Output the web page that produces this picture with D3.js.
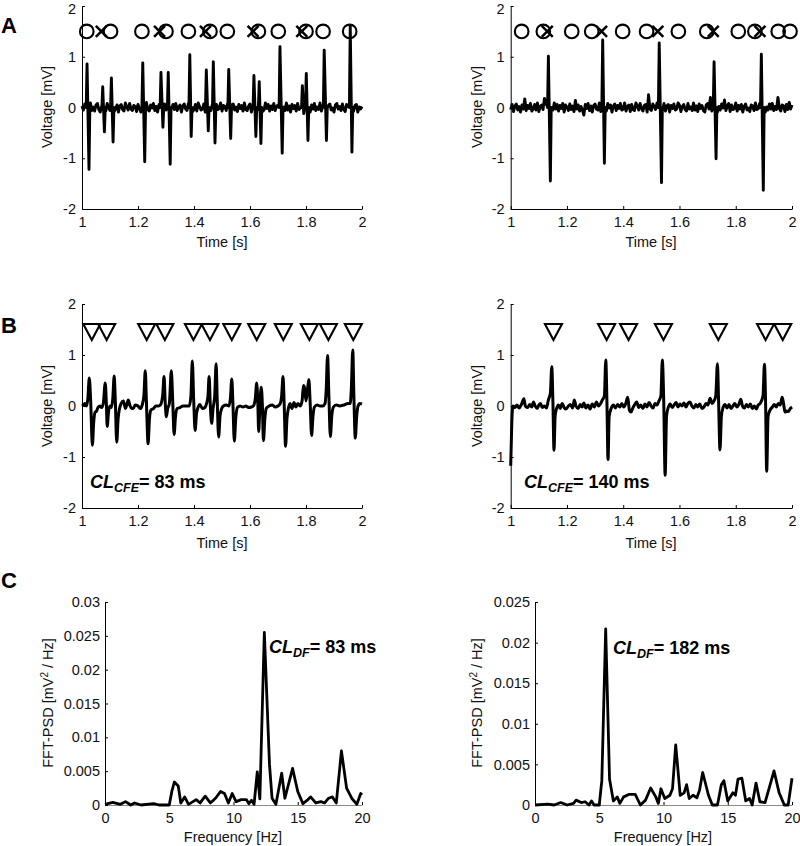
<!DOCTYPE html>
<html><head><meta charset="utf-8">
<script src="https://cdn.jsdelivr.net/npm/d3@7"></script>
<style>body{margin:0;background:#fff} svg{display:block}</style>
</head><body>
<svg id="c" width="800" height="846"></svg>
<script>
// ---------------- DATA ----------------
const timeTicks = [1, 1.2, 1.4, 1.6, 1.8, 2];
const voltTicks = [-2, -1, 0, 1, 2];
const freqTicks = [0, 5, 10, 15, 20];
const psdTicksLeft = [0, 0.005, 0.01, 0.015, 0.02, 0.025, 0.03];
const psdTicksRight = [0, 0.005, 0.01, 0.015, 0.02, 0.025];

// Panel A: baseline noise (hundredths of mV, one sample every 5 ms from t = 1 s)
const noiseA1 = [3,-5,7,-2,-8,4,9,-6,1,-7, 5,8,-4,-9,2,6,-3,-7,8,-1, -6,4,7,-8,-2,5,-9,3,6,-4,
 -7,9,1,-5,8,-3,-6,4,2,-8, 6,-2,-9,7,3,-5,10,-4,-7,5, -1,8,-6,2,-9,6,4,-3,-8,7,
 -5,3,9,-7,-2,6,-4,8,-6,1, 5,-9,3,7,-3,-6,8,-2,4,-8, -4,6,-7,9,2,-5,-3,7,-9,4,
 8,-1,-6,5,-8,3,6,-4,-2,9, -7,4,2,-6,8,-3,-9,5,7,-5, 1,-8,6,-2,4,-7,9,-4,-6,3,
 7,-9,2,5,-3,-6,8,-1,4,-8, -5,9,-2,6,-7,3,-4,8,-6,2, 5,-3,-8,7,1,-6,9,-5,3,-9,
 6,-2,4,-7,8,-4,-1,6,-8,3, -6,7,2,-9,5,-3,8,-6,1,-4, 9,-7,3,-2,6,-8,4,7,-5,-1,
 -9,5,8,-3,2,-6,7,-4,-8,6, 3,-5,9,-2,-7,4,6,-9,1,-3, 2];
const noiseA2 = [-4,6,-8,3,7,-5,2,-9,5,-3, 17,-6,4,-2,8,-7,-3,6,-5,9, -8,2,5,-4,18,7,3,-6,8,-1,
 -5,9,-3,6,-7,4,-2,8,-9,5, 1,-6,7,-4,3,-8,14,-3,5,-7, 2,-5,-15,6,-2,8,-6,3,-9,4,
 7,-3,-5,9,-8,2,6,-4,-7,8, -1,5,-9,3,7,-6,4,-2,8,-5, -3,9,-7,2,5,-8,6,-4,-6,9,
 3,-5,8,-2,-7,4,6,-9,25,-3, -6,7,2,-4,9,-8,5,-1,-5,8, -7,3,6,-9,4,-2,7,-5,-3,9,
 5,-8,2,6,-4,-7,8,-3,1,-6, 9,-5,3,-8,7,-2,4,-6,-9,5, 8,-3,20,-7,4,-4,6,-9,2,-5,
 7,-1,15,-6,3,8,-8,5,-4,-2, 9,-7,4,-3,6,-9,2,7,-5,-1, -8,5,3,-6,9,-4,-2,8,-7,4,
 6,-9,1,-5,7,-3,8,-6,2,-4, 20,-2,-7,5,3,-8,6,-4,10,-3, 5];
// spikes: [t up, v up, t down, v down]
const spikesA1 = [[1.018,0.86,1.025,-1.22],[1.074,0.41,1.080,-0.48],[1.105,0.58,1.111,-0.68],
 [1.217,0.88,1.224,-1.07],[1.282,0.69,1.289,-0.39],[1.308,0.69,1.315,-1.12],[1.385,1.04,1.390,-0.57],
 [1.444,0.74,1.451,-0.46],[1.469,0.90,1.475,-0.70],[1.524,0.75,1.531,-0.61],[1.614,0.63,1.621,-0.57],
 [1.633,0.51,1.639,-0.71],[1.707,1.20,1.715,-0.90],[1.787,0.43,1.792,-0.12],[1.801,0.67,1.807,-0.65],
 [1.865,1.13,1.873,-0.65],[1.958,1.61,1.964,-0.88]];
const spikesA2 = [[1.134,1.01,1.141,-1.45],[1.327,1.33,1.333,-1.10],[1.528,1.27,1.536,-1.48],
 [1.723,0.90,1.730,-1.01],[1.891,1.05,1.898,-1.63]];
const circlesA1 = [1.017,1.102,1.214,1.300,1.380,1.457,1.519,1.630,1.701,1.800,1.861,1.956];
const crossesA1 = [1.069,1.277,1.441,1.611,1.785];
const circlesA2 = [1.039,1.116,1.217,1.288,1.398,1.483,1.596,1.697,1.809,1.868,1.951,1.993];
const crossesA2 = [1.130,1.323,1.523,1.720,1.886];
const markerLevelA = 1.5;

// Panel B: filtered signals [t, v]
const signalB1 = [[1.000,0.00],[1.005,0.02],[1.011,0.05],[1.016,0.00],[1.021,0.15],[1.026,0.55],[1.031,0.10],[1.037,-0.77],[1.042,-0.30],[1.047,-0.12],[1.052,-0.10],[1.058,-0.02],[1.064,0.00],[1.070,-0.03],[1.076,0.05],[1.083,0.45],[1.087,0.05],[1.090,-0.40],[1.095,-0.10],[1.100,0.00],[1.105,-0.03],[1.110,0.15],[1.115,0.59],[1.119,0.10],[1.124,-0.71],[1.129,-0.25],[1.134,-0.05],[1.140,0.05],[1.148,0.10],[1.155,-0.05],[1.160,0.02],[1.165,0.12],[1.172,0.00],[1.178,-0.05],[1.183,-0.05],[1.190,0.02],[1.200,0.00],[1.208,-0.05],[1.215,0.02],[1.221,0.20],[1.226,0.69],[1.230,0.10],[1.236,-0.74],[1.241,-0.25],[1.246,-0.08],[1.255,-0.05],[1.264,0.00],[1.273,0.00],[1.280,0.02],[1.288,0.20],[1.293,0.58],[1.297,0.10],[1.301,-0.21],[1.306,-0.05],[1.312,0.05],[1.319,0.69],[1.324,0.10],[1.329,-0.56],[1.334,-0.20],[1.340,-0.05],[1.350,-0.03],[1.360,0.00],[1.374,0.00],[1.383,0.00],[1.389,0.20],[1.394,0.88],[1.399,0.10],[1.404,-0.48],[1.409,-0.15],[1.415,-0.02],[1.421,0.03],[1.430,-0.05],[1.439,-0.03],[1.445,0.05],[1.450,0.20],[1.454,0.58],[1.458,0.05],[1.463,-0.34],[1.468,-0.05],[1.474,0.20],[1.479,0.83],[1.483,0.10],[1.488,-0.61],[1.493,-0.20],[1.499,-0.05],[1.505,0.00],[1.515,0.02],[1.525,0.00],[1.530,0.15],[1.535,0.53],[1.539,0.05],[1.544,-0.69],[1.549,-0.25],[1.555,-0.03],[1.565,0.00],[1.575,-0.02],[1.585,0.00],[1.595,-0.03],[1.605,-0.02],[1.612,0.00],[1.619,0.15],[1.624,0.45],[1.628,0.05],[1.631,-0.50],[1.635,-0.05],[1.640,0.37],[1.644,0.05],[1.648,-0.68],[1.653,-0.25],[1.658,-0.05],[1.668,0.00],[1.680,0.02],[1.690,-0.02],[1.700,0.00],[1.708,0.05],[1.713,0.20],[1.718,0.58],[1.722,0.05],[1.727,-0.79],[1.732,-0.25],[1.737,-0.05],[1.743,0.05],[1.750,-0.05],[1.757,0.07],[1.764,-0.02],[1.771,0.05],[1.779,0.00],[1.786,0.10],[1.791,0.40],[1.795,0.35],[1.800,0.10],[1.805,0.30],[1.810,0.52],[1.815,0.05],[1.820,-0.58],[1.825,-0.20],[1.830,-0.02],[1.840,0.02],[1.850,0.00],[1.860,0.00],[1.868,0.05],[1.872,0.30],[1.877,0.99],[1.882,0.15],[1.887,-0.60],[1.892,-0.20],[1.898,-0.02],[1.908,0.02],[1.920,0.00],[1.935,0.02],[1.950,0.05],[1.958,0.05],[1.962,0.35],[1.967,1.10],[1.971,0.20],[1.976,-0.63],[1.981,-0.20],[1.986,0.00],[1.992,0.05],[2.000,0.04]];
const signalB2 = [[1.000,-1.17],[1.004,-0.30],[1.008,0.00],[1.015,-0.03],[1.022,0.02],[1.030,-0.04],[1.038,0.03],[1.047,0.14],[1.052,0.00],[1.060,-0.03],[1.068,0.03],[1.075,-0.02],[1.081,0.08],[1.087,0.00],[1.094,-0.05],[1.100,0.02],[1.106,0.05],[1.112,-0.03],[1.120,0.00],[1.127,-0.04],[1.134,0.12],[1.141,0.25],[1.146,0.77],[1.150,0.10],[1.154,-0.87],[1.158,-0.20],[1.163,-0.05],[1.170,0.02],[1.176,-0.05],[1.183,0.05],[1.190,-0.03],[1.197,-0.06],[1.205,0.00],[1.212,0.03],[1.220,-0.04],[1.226,0.12],[1.232,0.00],[1.240,-0.05],[1.247,0.03],[1.254,-0.02],[1.260,0.06],[1.267,-0.04],[1.275,0.02],[1.282,-0.06],[1.290,0.04],[1.297,-0.02],[1.305,0.08],[1.312,0.00],[1.320,0.05],[1.326,0.12],[1.333,0.20],[1.338,0.90],[1.342,0.10],[1.346,-1.05],[1.350,-0.20],[1.357,-0.05],[1.365,0.02],[1.372,-0.04],[1.380,0.03],[1.388,-0.02],[1.395,0.05],[1.402,-0.02],[1.409,0.05],[1.416,0.17],[1.422,-0.08],[1.428,-0.12],[1.434,-0.04],[1.441,0.03],[1.448,0.08],[1.455,-0.03],[1.462,0.02],[1.470,-0.05],[1.477,0.04],[1.484,-0.02],[1.492,0.07],[1.499,0.00],[1.506,-0.04],[1.513,0.05],[1.520,0.02],[1.527,0.10],[1.534,0.20],[1.539,0.90],[1.544,0.10],[1.549,-1.36],[1.554,-0.20],[1.560,-0.03],[1.567,0.04],[1.574,-0.03],[1.581,0.02],[1.588,0.07],[1.595,-0.02],[1.602,0.04],[1.609,0.00],[1.616,0.06],[1.623,-0.02],[1.630,0.05],[1.637,0.08],[1.644,0.00],[1.651,-0.04],[1.658,0.03],[1.665,-0.02],[1.672,0.04],[1.680,-0.05],[1.687,-0.02],[1.694,0.05],[1.701,0.02],[1.709,0.15],[1.716,0.05],[1.723,0.10],[1.729,0.20],[1.735,0.83],[1.739,0.10],[1.744,-0.86],[1.749,-0.20],[1.755,-0.03],[1.762,0.03],[1.769,-0.04],[1.776,0.03],[1.783,-0.05],[1.790,0.00],[1.797,0.05],[1.804,-0.02],[1.811,0.03],[1.818,0.13],[1.824,0.00],[1.831,-0.04],[1.838,0.03],[1.845,-0.02],[1.852,0.04],[1.859,-0.05],[1.866,0.00],[1.873,-0.06],[1.880,0.02],[1.887,0.05],[1.897,0.20],[1.902,0.82],[1.906,0.10],[1.910,-1.28],[1.915,-0.20],[1.922,-0.08],[1.930,-0.02],[1.937,0.03],[1.944,-0.02],[1.951,0.05],[1.958,0.02],[1.965,0.17],[1.970,0.05],[1.975,-0.12],[1.981,-0.10],[1.987,-0.11],[1.994,-0.05],[2.000,-0.02]];
const trianglesB1 = [1.035,1.088,1.231,1.296,1.398,1.457,1.535,1.624,1.719,1.812,1.880,1.969];
const trianglesB2 = [1.152,1.341,1.419,1.543,1.738,1.906,1.967];
const markerLevelB = 1.45;

// Panel C: power spectra [Hz, mV^2/Hz]
const psdC1 = [[0,0.0001],[0.6,0.0004],[1.2,0.0001],[1.6,0.0005],[2.0,0.0000],[2.3,0.0003],[2.8,0.0000],[3.8,0.0002],[4.2,0.0000],[5.0,0.0000],[5.2,0.0020],[5.4,0.0034],[5.7,0.0028],[5.9,0.0003],[6.2,0.0012],[6.5,0.0001],[7.1,0.0008],[7.4,0.0003],[7.8,0.0013],[8.2,0.0003],[8.6,0.0010],[9.0,0.0020],[9.3,0.0017],[9.6,0.0003],[9.9,0.0017],[10.2,0.0005],[10.6,0.0008],[11.0,0.0008],[11.2,0.0002],[11.4,0.0007],[11.6,0.0001],[11.85,0.0049],[12.05,0.0009],[12.4,0.0255],[12.8,0.0060],[13.0,0.0010],[13.3,0.0001],[13.75,0.0047],[14.0,0.0010],[14.6,0.0054],[15.0,0.0020],[15.4,0.0002],[15.8,0.0008],[16.0,0.0012],[16.4,0.0003],[16.8,0.0005],[17.1,0.0003],[17.4,0.0010],[17.7,0.0012],[18.0,0.0003],[18.4,0.0080],[18.8,0.0025],[19.2,0.0010],[19.6,0.0001],[19.9,0.0017],[20,0.0015]];
const psdC2 = [[0,0.0000],[1.0,0.0001],[1.5,0.0000],[2.0,0.0003],[2.5,0.0000],[3.0,0.0002],[3.2,0.0006],[3.6,0.0003],[3.9,0.0004],[4.2,0.0000],[4.4,0.0005],[4.6,0.0000],[5.0,0.0000],[5.2,0.0030],[5.5,0.0217],[5.8,0.0032],[6.1,0.0005],[6.4,0.0010],[6.6,0.0002],[6.9,0.0010],[7.3,0.0013],[7.8,0.0013],[8.2,0.0000],[8.6,0.0006],[9.0,0.0021],[9.4,0.0010],[9.6,0.0002],[9.8,0.0020],[10.1,0.0008],[10.5,0.0012],[10.7,0.0020],[10.95,0.0074],[11.3,0.0012],[11.6,0.0015],[11.8,0.0025],[12.0,0.0008],[12.3,0.0012],[12.6,0.0009],[12.8,0.0018],[13.05,0.0040],[13.5,0.0012],[13.8,0.0000],[14.2,0.0000],[14.5,0.0025],[14.7,0.0030],[15.0,0.0005],[15.4,0.0015],[15.6,0.0012],[15.8,0.0032],[16.1,0.0033],[16.4,0.0005],[16.7,0.0008],[16.9,0.0000],[17.2,0.0027],[17.5,0.0004],[17.9,0.0003],[18.3,0.0025],[18.6,0.0042],[19.0,0.0015],[19.4,0.0000],[19.7,0.0000],[20.0,0.0033]];

const cycleLabels = {B1: "83 ms", B2: "140 ms", C1: "83 ms", C2: "182 ms"};

// ---------------- DRAWING ----------------
const FONT = '"Liberation Sans", Arial, Helvetica, sans-serif';
const svg = d3.select("#c").style("font-family", FONT);
const FS = 14.5;

function frame(xDom, yDom, px, py, xt, yt, opt) {
  const x = d3.scaleLinear().domain(xDom).range(px);
  const y = d3.scaleLinear().domain(yDom).range(py);
  const g = svg.append("g");
  const xa = g.append("g").attr("transform", `translate(0,${py[0]})`)
    .call(d3.axisBottom(x).tickValues(xt).tickFormat(d => String(d)).tickSizeInner(-3).tickSizeOuter(0).tickPadding(8));
  const ya = g.append("g").attr("transform", `translate(${px[0]},0)`)
    .call(d3.axisLeft(y).tickValues(yt).tickFormat(d => String(d)).tickSizeInner(-3).tickSizeOuter(0).tickPadding(opt.ypad));
  [xa, ya].forEach(a => a.attr("font-size", FS).attr("font-family", FONT).selectAll("text").attr("fill", "#111"));
  xa.select(".domain").attr("stroke", opt.xAxisColor || "#000");
  if (opt.nudgeTop) ya.selectAll(".tick text").filter(d => d === yDom[1]).attr("dy", "0.55em");
  return {x, y, g};
}

function yLabel(xpos, ycen, parts) {
  const t = svg.append("text").attr("transform", `translate(${xpos},${ycen}) rotate(-90)`)
    .attr("text-anchor", "middle").attr("font-size", FS).attr("fill", "#111");
  parts.forEach(p => {
    const s = t.append("tspan").text(p.t);
    if (p.sup) s.attr("font-size", 10).attr("baseline-shift", "super");
  });
}
function xLabel(xcen, ypos, txt) {
  svg.append("text").attr("x", xcen).attr("y", ypos).attr("text-anchor", "middle")
    .attr("font-size", FS).attr("fill", "#111").text(txt);
}
function panelLetter(txt, ypos) {
  svg.append("text").attr("x", 1).attr("y", ypos).attr("font-size", 22).attr("font-weight", "bold").text(txt);
}
function clText(xpos, ypos, sub, val) {
  const t = svg.append("text").attr("x", xpos).attr("y", ypos).attr("font-size", 18).attr("font-weight", "bold");
  t.append("tspan").attr("font-style", "italic").text("CL");
  t.append("tspan").attr("font-style", "italic").attr("font-size", 12.5).attr("dy", 4).text(sub);
  t.append("tspan").attr("dy", -4).text("= " + val);
}

function buildSpiky(noise, spikes) {
  const pts = [];
  noise.forEach((n, i) => {
    const t = 1 + i * 0.005;
    if (!spikes.some(s => t > s[0] - 0.004 && t < s[2] + 0.004)) pts.push([t, n / 100]);
  });
  spikes.forEach(s => pts.push([s[0] - 0.003, 0], [s[0], s[1]], [s[2], s[3]], [s[2] + 0.003, 0]));
  pts.sort((a, b) => a[0] - b[0]);
  return pts;
}

function drawA(px, noise, spikes, circles, crosses) {
  const {x, y, g} = frame([1, 2], [-2, 2], px, [209, 6], timeTicks, voltTicks, {ypad: 6, nudgeTop: true});
  const line = d3.line().x(d => x(d[0])).y(d => y(d[1]));
  g.append("path").datum(buildSpiky(noise, spikes)).attr("d", line)
    .attr("fill", "none").attr("stroke", "#000").attr("stroke-width", 2.9).attr("stroke-linejoin", "round");
  g.selectAll("circle.m").data(circles).join("circle").attr("cx", d => x(d)).attr("cy", y(markerLevelA))
    .attr("r", 6.8).attr("fill", "none").attr("stroke", "#000").attr("stroke-width", 2.1);
  g.selectAll("path.x").data(crosses).join("path")
    .attr("d", d => `M${x(d)-5.5},${y(markerLevelA)-5.5}L${x(d)+5.5},${y(markerLevelA)+5.5}M${x(d)-5.5},${y(markerLevelA)+5.5}L${x(d)+5.5},${y(markerLevelA)-5.5}`)
    .attr("stroke", "#000").attr("stroke-width", 2.5).attr("fill", "none");
}
function drawB(px, sig, tris) {
  const {x, y, g} = frame([1, 2], [-2, 2], px, [508, 304], timeTicks, voltTicks, {ypad: 6});
  const line = d3.line().x(d => x(d[0])).y(d => y(d[1])).curve(d3.curveMonotoneX);
  g.append("path").datum(sig).attr("d", line)
    .attr("fill", "none").attr("stroke", "#000").attr("stroke-width", 3).attr("stroke-linejoin", "round");
  g.selectAll("path.t").data(tris).join("path")
    .attr("d", d => `M${x(d)-8.5},${y(markerLevelB)-8}L${x(d)+8.5},${y(markerLevelB)-8}L${x(d)},${y(markerLevelB)+8}Z`)
    .attr("fill", "none").attr("stroke", "#000").attr("stroke-width", 2.1).attr("stroke-linejoin", "miter");
}
function drawC(px, data, yMax, yt) {
  const {x, y, g} = frame([0, 20], [0, yMax], px, [805, 602], freqTicks, yt, {ypad: 5, xAxisColor: "#8a8a8a"});
  const line = d3.line().x(d => x(d[0])).y(d => y(d[1]));
  g.append("path").datum(data).attr("d", line)
    .attr("fill", "none").attr("stroke", "#000").attr("stroke-width", 2.8).attr("stroke-linejoin", "round");
}

// Row A
panelLetter("A", 33);
drawA([82, 362], noiseA1, spikesA1, circlesA1, crossesA1);
drawA([510.7, 792], noiseA2, spikesA2, circlesA2, crossesA2);
yLabel(52, 107, [{t: "Voltage [mV]"}]);
yLabel(482, 107, [{t: "Voltage [mV]"}]);
xLabel(222, 247, "Time [s]");
xLabel(651, 247, "Time [s]");

// Row B
panelLetter("B", 333);
drawB([82, 362], signalB1, trianglesB1);
drawB([510.7, 792], signalB2, trianglesB2);
yLabel(52, 406, [{t: "Voltage [mV]"}]);
yLabel(482, 406, [{t: "Voltage [mV]"}]);
xLabel(222, 548, "Time [s]");
xLabel(651, 548, "Time [s]");
clText(90, 488, "CFE", cycleLabels.B1);
clText(524, 488, "CFE", cycleLabels.B2);

// Row C
panelLetter("C", 588);
drawC([105, 362], psdC1, 0.03, psdTicksLeft);
drawC([535, 792], psdC2, 0.025, psdTicksRight);
yLabel(53, 703, [{t: "FFT-PSD [mV"}, {t: "2", sup: true}, {t: " / Hz]"}]);
yLabel(482, 703, [{t: "FFT-PSD [mV"}, {t: "2", sup: true}, {t: " / Hz]"}]);
xLabel(233, 842, "Frequency [Hz]");
xLabel(663, 842, "Frequency [Hz]");
clText(269, 653, "DF", cycleLabels.C1);
clText(613, 654, "DF", cycleLabels.C2);
</script>
</body></html>
